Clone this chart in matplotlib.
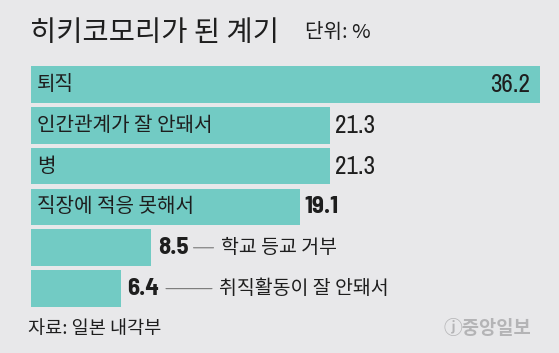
import matplotlib
matplotlib.use('Agg')
import matplotlib.pyplot as plt
from matplotlib.transforms import offset_copy

plt.rcParams['font.family'] = ['Noto Sans CJK KR', 'DejaVu Sans']

# 데이터
categories = ['퇴직', '인간관계가 잘 안돼서', '병', '직장에 적응 못해서', '학교 등교 거부', '취직활동이 잘 안돼서']
values = [36.2, 21.3, 21.3, 19.1, 8.5, 6.4]
value_labels = ['36.2', '21.3', '21.3', '19.1', '8.5', '6.4']

bg = '#e8e8ea'
bar_col = '#72cbc4'
text_col = '#1e1e1e'

fig = plt.figure(figsize=(5.59, 3.53), dpi=100, facecolor=bg)
ax = fig.add_axes([31 / 559, 1 - 307 / 353, 509 / 559, 241 / 353])
ax.set_facecolor(bg)

ypos = list(range(len(values)))
ax.barh(ypos, values, height=0.9, color=bar_col, edgecolor='none')
ax.set_xlim(0, 36.2)
ax.set_ylim(5.45, -0.45)
ax.axis('off')

num_kw = dict(fontsize=18, color=text_col, family=['Archivo Narrow', 'DejaVu Sans'])
bold_kw = dict(fontsize=18, color=text_col, weight='bold',
               family=['Barlow Semi Condensed', 'Archivo Narrow', 'DejaVu Sans'])
cat_size = 14.5


def shifted(px):
    return offset_copy(ax.transData, fig=fig, x=px, y=0, units='dots')


for i, (cat, v, lab) in enumerate(zip(categories, values, value_labels)):
    if i == 0:
        # 가장 긴 막대: 라벨 안쪽
        ax.text(0, i, cat, transform=shifted(6), ha='left', va='center',
                fontsize=cat_size, color=text_col)
        ax.text(v, i, lab, transform=shifted(-10), ha='right', va='center', **num_kw)
    elif i < 4:
        ax.text(0, i, cat, transform=shifted(6), ha='left', va='center',
                fontsize=cat_size, color=text_col)
        kw = bold_kw if i == 3 else num_kw
        ax.text(v, i, lab, transform=shifted(5), ha='left', va='center', **kw)
    else:
        # 짧은 막대: 값 + 연결선 + 라벨
        gap = 8 if i == 4 else 6
        l0, l1 = (43, 63) if i == 4 else (45, 91)
        ax.text(v, i, lab, transform=shifted(gap), ha='left', va='center', **bold_kw)
        ax.annotate('', xy=(v, i), xycoords=shifted(l1),
                    xytext=(v, i), textcoords=shifted(l0),
                    arrowprops=dict(arrowstyle='-', color='#777777', lw=0.8,
                                    shrinkA=0, shrinkB=0))
        ax.text(v, i, cat, transform=shifted(l1 + 7), ha='left', va='center',
                fontsize=14, color=text_col)

fig.text(30 / 559, 1 - 33 / 353, '히키코모리가 된 계기', ha='left', va='center',
         fontsize=20.5, color=text_col, weight='medium')
fig.text(305 / 559, 1 - 33 / 353, '단위: %', ha='left', va='center',
         fontsize=14.5, color=text_col, weight='light')
fig.text(28 / 559, 1 - 329 / 353, '자료: 일본 내각부', ha='left', va='center',
         fontsize=13.4, color=text_col)
fig.text(531 / 559, 1 - 329 / 353, 'ⓙ중앙일보', ha='right', va='center',
         fontsize=13.5, color='#b4b4b6', weight='bold')

fig.savefig('out.png', dpi=100, facecolor=bg)
